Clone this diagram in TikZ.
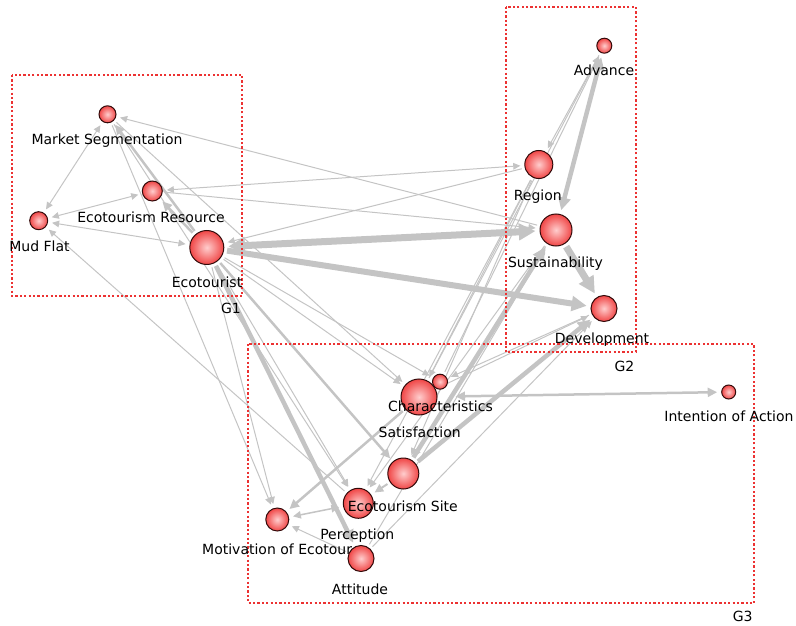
\documentclass[tikz,border=0pt]{standalone}
\usepackage{fontspec}
\setmainfont{DejaVu Sans}
\usetikzlibrary{arrows.meta}
\pgfdeclarelayer{bg}
\pgfsetlayers{bg,main}
\definecolor{edgegray}{RGB}{196,196,196}
\definecolor{grpred}{RGB}{236,50,50}
\definecolor{ballin}{RGB}{255,205,205}
\definecolor{ballout}{RGB}{240,70,70}
\definecolor{ballrim}{RGB}{50,10,10}
\tikzset{
  >={Triangle[length=5.5pt 1.6,width=5pt 1.6]},
  vtx/.style={circle,draw=ballrim,line width=1pt,inner sep=0pt,minimum size=#1,
    shading=radial,inner color=ballin,outer color=ballout},
  lbl/.style={font=\fontsize{14}{16}\selectfont,inner sep=0pt,text=black},
  grp/.style={draw=grpred,dash pattern=on 2.2pt off 2.2pt,line width=2pt},
  ed/.style={draw=edgegray,line width=#1,->,shorten >=4pt,shorten <=3pt},
  bd/.style={draw=edgegray,line width=#1,<->,shorten >=4pt,shorten <=4pt},
}
\begin{document}
\begin{tikzpicture}[x=1pt,y=-1pt]
\useasboundingbox (0,0) rectangle (796,626);
% groups
\draw[grp] (11.7,75) rectangle (242.3,295.7);
\draw[grp] (506,6.7) rectangle (635.7,352.3);
\draw[grp] (248.3,344) rectangle (754,603.3);
\node[lbl] (g1) at (231,308.5) {G1};
\node[lbl] (g2) at (624.5,366.7) {G2};
\node[lbl] (g3) at (742.7,616) {G3};
% nodes
\node[vtx=17pt] (ms) at (107.5,114.3) {};
\node[vtx=20pt] (er) at (152.3,191) {};
\node[vtx=18pt] (mf) at (38.7,220.7) {};
\node[vtx=34pt] (et) at (206.8,247.5) {};
\node[vtx=15pt] (ad) at (604.3,45.7) {};
\node[vtx=28pt] (rg) at (538.8,164.5) {};
\node[vtx=32pt] (su) at (556,230) {};
\node[vtx=26pt] (dv) at (604,308.5) {};
\node[vtx=36pt] (sa) at (419,397) {};
\node[vtx=15pt] (ch) at (440,381.7) {};
\node[vtx=31pt] (es) at (403.3,473.5) {};
\node[vtx=30pt] (pe) at (358.3,503.3) {};
\node[vtx=23pt] (mo) at (277.3,519.5) {};
\node[vtx=14pt] (ia) at (728.7,392) {};
% labels
\node[lbl] (lms) at (107,140.7) {Market Segmentation};
\node[lbl] (ler) at (151,217.7) {Ecotourism Resource};
\node[lbl] (lmf) at (39.5,246) {Mud Flat};
\node[lbl] (let) at (207,282.3) {Ecotourist};
\node[lbl] (lad) at (604,70.7) {Advance};
\node[lbl] (lrg) at (537.8,196.7) {Region};
\node[lbl] (lsu) at (555.5,263.3) {Sustainability};
\node[lbl] (ldv) at (602,339.3) {Development};
\node[lbl] (lch) at (440.5,406.7) {Characteristics};
\node[lbl] (lsa) at (419.7,432.7) {Satisfaction};
\node[lbl] (les) at (402.8,506.7) {Ecotourism Site};
\node[lbl] (lpe) at (357.3,536) {Perception};
\node[lbl,anchor=west] (lmo) at (202,549.3) {Motivation of Ecotour};
\node[vtx=26pt] (at) at (361,558.5) {};
\node[lbl] (lat) at (360,589.3) {Attitude};
\node[lbl] (lia) at (729,416) {Intention of Action};
% edges
\begin{pgfonlayer}{bg}
\draw[bd=1pt] (ms) -- (mf);
\draw[bd=1pt] (mf) -- (er);
\draw[bd=1pt] (mf) -- (et);
\draw[ed=1pt] (pe) -- (mf);
\draw[ed=1pt] (ms) -- (mo);
\draw[ed=1pt] (et) -- (mo);
\draw[ed=2.5pt] (et) -- (ms);
\draw[ed=1pt] (su) -- (ms);
\draw[ed=2.5pt] (et) -- (er);
\draw[bd=1pt] (rg) -- (er);
\draw[ed=1pt] (er) -- (su);
\draw[bd=7pt] (et) -- (su);
\draw[ed=6pt] (et) -- (dv);
\draw[ed=1pt] (rg) -- (et);
\draw[bd=4.5pt] (ad) -- (su);
\draw[ed=1pt] (ad) -- (rg);
\draw[ed=1pt] (sa) -- (ad);
\draw[ed=1pt] (ch) -- (ad);
\draw[ed=7pt] (su) -- (dv);
\draw[ed=4.5pt] (es) -- (dv);
\draw[ed=4.5pt] (es) -- (su);
\draw[ed=1pt] (sa) -- (dv);
\draw[draw=edgegray,line width=2.5pt,<->,shorten <=18pt,shorten >=4pt] (sa) -- (ia);
\draw[ed=1pt] (et) -- (sa);
\draw[ed=1pt] (et) -- (ch);
\draw[ed=1pt] (ms) -- (sa);
\draw[ed=2.5pt] (et) -- (es);
\draw[ed=4.5pt] (et) -- (at);
\draw[ed=1pt] (rg) -- (sa);
\draw[ed=1pt] (rg) -- (es);
\draw[ed=1pt] (rg) -- (pe);
\draw[ed=1pt] (su) -- (pe);
\draw[ed=1pt] (su) -- (es);
\draw[ed=2.5pt] (sa) -- (mo);
\draw[bd=1.5pt] (pe) -- (mo);
\draw[ed=2pt] (es) -- (pe);
\draw[ed=1pt] (at) -- (mo);
\draw[ed=1pt] (et) -- (pe);
\draw[ed=1pt] (ms) -- (pe);
\draw[ed=1pt] (at) -- (su);
\draw[ed=1pt] (at) -- (dv);
\draw[ed=1pt] (dv) -- (ch);
\end{pgfonlayer}
\end{tikzpicture}
\end{document}
